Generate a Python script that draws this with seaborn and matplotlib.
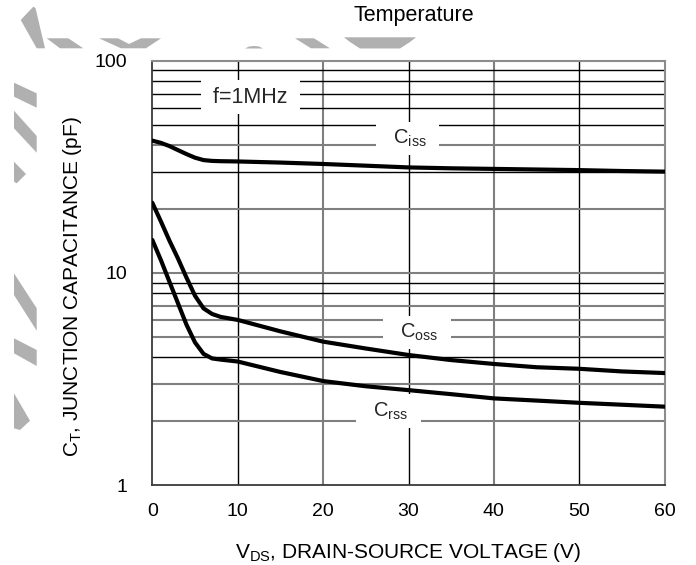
import numpy as np
import pandas as pd
import matplotlib
matplotlib.use("Agg")
import matplotlib.pyplot as plt
import seaborn as sns
from matplotlib.patches import Polygon
from matplotlib.transforms import Affine2D
from matplotlib.ticker import NullLocator

# ---------------- data ----------------
vds = [0, 1, 2, 3, 4, 5, 6, 7, 8, 10, 15, 20, 25, 30, 35, 40, 45, 50, 55, 60]
ciss = [42.0, 41.0, 39.6, 37.9, 36.3, 34.9, 34.0, 33.7, 33.6, 33.5, 33.1, 32.6,
        32.0, 31.4, 31.1, 30.9, 30.7, 30.5, 30.2, 30.0]
coss = [21.4, 17.5, 14.2, 11.7, 9.5, 7.8, 6.8, 6.4, 6.2, 6.0, 5.3, 4.74,
        4.4, 4.1, 3.88, 3.72, 3.59, 3.53, 3.43, 3.37]
crss = [14.3, 11.5, 9.1, 7.2, 5.7, 4.7, 4.15, 3.95, 3.9, 3.82, 3.41, 3.09,
        2.92, 2.8, 2.68, 2.56, 2.50, 2.44, 2.39, 2.34]
series_names = ["Ciss", "Coss", "Crss"]

xticks = [0, 10, 20, 30, 40, 50, 60]
yticks = [1, 10, 100]
ytick_labels = ["1", "10", "100"]

grid_v_black = [10, 30, 50]
grid_v_grey = [20, 40]
grid_h_black = [90, 80, 70, 60, 50, 30, 9, 8, 4]
grid_h_grey = [40, 20, 10, 7, 6, 5, 3, 2]

# ---------------- style ----------------
sns.set_theme(style="white")
plt.rcParams["font.family"] = ["Liberation Sans", "DejaVu Sans"]
plt.rcParams["mathtext.fontset"] = "custom"
plt.rcParams["mathtext.rm"] = "Liberation Sans"
plt.rcParams["mathtext.it"] = "Liberation Sans:italic"
FS_TICK = 14
FS_LABEL = 15
FS_NOTE = 15.5
FS_CURVE = 14.5

W, H = 696, 565
fig = plt.figure(figsize=(W / 100, H / 100), dpi=100)
fig.patch.set_facecolor("white")
ax = fig.add_axes([152.3 / W, (H - 485) / H, 512.4 / W, 424.3 / H])
ax.set_facecolor("white")

df = pd.DataFrame({
    "V": vds * 3,
    "C": ciss + coss + crss,
    "series": [s for s in series_names for _ in vds],
})
sns.lineplot(data=df, x="V", y="C", hue="series",
             palette={s: "black" for s in series_names},
             legend=False, linewidth=3.0, errorbar=None, ax=ax, zorder=4,
             solid_joinstyle="round")

ax.set_yscale("log")
ax.set_xlim(0, 60)
ax.set_ylim(1, 100)

# grid
for v in grid_v_black:
    ax.axvline(v, color="black", lw=1.0, zorder=1)
for v in grid_v_grey:
    ax.axvline(v, color="#7f7f7f", lw=1.5, zorder=1)
for v in grid_h_black:
    ax.axhline(v, color="black", lw=1.0, zorder=1)
for v in grid_h_grey:
    ax.axhline(v, color="#7f7f7f", lw=1.5, zorder=1)

ax.set_xticks(xticks)
ax.set_xticklabels([str(t) for t in xticks])
ax.set_yticks(yticks)
ax.set_yticklabels(ytick_labels)
ax.yaxis.set_minor_locator(NullLocator())
ax.xaxis.set_minor_locator(NullLocator())
ax.tick_params(axis="both", length=0, labelsize=FS_TICK, colors="black")
ax.tick_params(axis="x", pad=13)
ax.tick_params(axis="y", pad=18)

for side in ["left", "bottom"]:
    ax.spines[side].set_color("#3a3a3a")
    ax.spines[side].set_linewidth(1.3)
for side in ["top", "right"]:
    ax.spines[side].set_color("#8c8c8c")
    ax.spines[side].set_linewidth(1.5)

ax.set_xlabel(r"V$_{\mathregular{DS}}$, DRAIN-SOURCE VOLTAGE (V)", fontsize=FS_LABEL,
              color="black", labelpad=15)
ax.set_ylabel(r"C$_{\mathregular{T}}$, JUNCTION CAPACITANCE (pF)", fontsize=FS_LABEL,
              color="black")
ax.yaxis.set_label_coords(-0.133, 0.468)

box = dict(boxstyle="square,pad=0.3", facecolor="white", edgecolor="none")
ax.text(11.5, 67.3, " f=1MHz ", fontsize=FS_NOTE, ha="center", va="center",
        bbox=box, zorder=3)
ax.text(29.9, 43.0, r"  C$_{\mathregular{iss}}$  ", fontsize=FS_CURVE, ha="center",
        va="center", bbox=box, zorder=3)
ax.text(31.0, 5.25, r"  C$_{\mathregular{oss}}$  ", fontsize=FS_CURVE, ha="center",
        va="center", bbox=box, zorder=3)
ax.text(27.7, 2.23, r"  C$_{\mathregular{rss}}$  ", fontsize=FS_CURVE, ha="center",
        va="center", bbox=box, zorder=3)

# leftover text from the cropped page
fig.text(414 / W, 1 - 15 / H, "Temperature", fontsize=FS_NOTE, ha="center",
         va="center", color="black")

# grey watermark fragments (decoration, pixel coordinates from top-left)
pix = Affine2D().scale(1 / W, -1 / H).translate(0, 1) + fig.transFigure
wm = [
    [(14, 82.7), (36.7, 93.3), (36.7, 107.7), (14, 96.7)],
    [(14, 110.7), (36.7, 136), (36.7, 152.7), (14, 128.3)],
    [(14, 161.7), (26, 174), (16.7, 183.3), (14, 181.7)],
    [(14, 273.3), (36.7, 308.3), (36.7, 330.7), (14, 295)],
    [(14, 338.3), (36.7, 350), (36.7, 366), (14, 353.3)],
    [(14, 393.3), (30, 420.7), (20, 430), (14, 428.3)],
    [(33.3, 6.7), (20.7, 20), (36.7, 48.3), (45, 48.3), (35.5, 8)],
    [(46.7, 38.3), (68.3, 38.3), (83.3, 48.3), (60, 48.3)],
    [(99, 38.3), (118, 38.3), (129, 44), (141, 38.3), (161, 38.3), (146, 48.3), (121, 48.3)],
    [(245, 48.5), (249, 46.5), (254, 46), (259, 46.5), (263, 48.5)],
    [(295, 38.3), (314, 38.3), (330, 48.3), (311, 48.3)],
    [(344, 37.3), (416, 37.3), (410, 42), (400, 48.5), (360, 48.5), (350, 42)],
]
for pts in wm:
    fig.add_artist(Polygon(pts, closed=True, transform=pix, facecolor="#b0b0b0",
                           edgecolor="none", zorder=0))

fig.savefig("out.png", dpi=100, facecolor="white")
